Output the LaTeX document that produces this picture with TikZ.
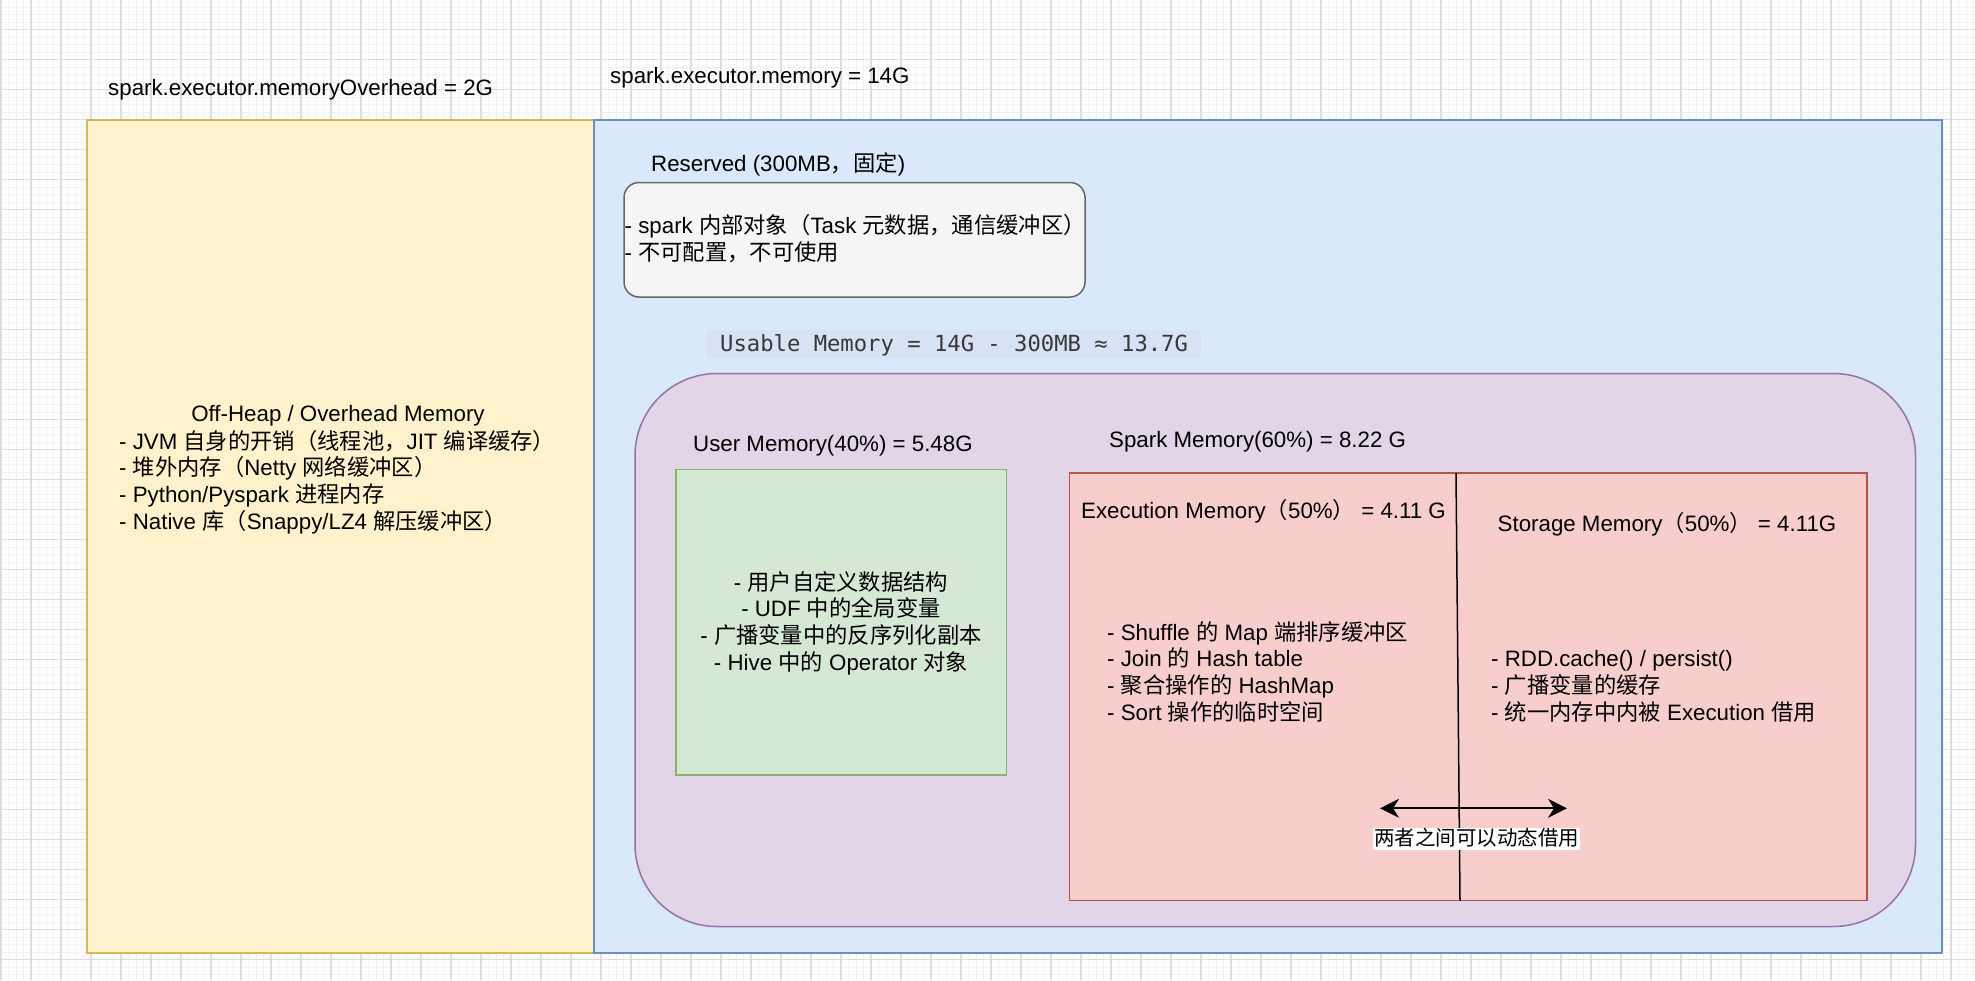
\documentclass[tikz,border=0pt]{standalone}
\usepackage{fontspec}
\setmainfont{Liberation Sans}
\newfontfamily\cjk{Noto Sans CJK SC}
\newfontfamily\codefont{DejaVu Sans Mono}
\usetikzlibrary{arrows.meta}
\newcommand\zh[1]{{\cjk #1}}
\newcommand\fs{\fontsize{22.3pt}{26.7pt}\selectfont}
\definecolor{yelFill}{HTML}{FFF2CC}
\definecolor{yelLine}{HTML}{D6B656}
\definecolor{bluFill}{HTML}{DAE8FC}
\definecolor{bluLine}{HTML}{6C8EBF}
\definecolor{gryFill}{HTML}{F5F5F5}
\definecolor{gryLine}{HTML}{666666}
\definecolor{purFill}{HTML}{E1D5E7}
\definecolor{purLine}{HTML}{9673A6}
\definecolor{grnFill}{HTML}{D5E8D4}
\definecolor{grnLine}{HTML}{82B366}
\definecolor{redFill}{HTML}{F8CECC}
\definecolor{redLine}{HTML}{B85450}
\definecolor{codeBg}{HTML}{D7E3F4}
\definecolor{codeTxt}{HTML}{383838}
\definecolor{gridMinor}{HTML}{F1F1F1}
\definecolor{gridMajor}{HTML}{DDDDDD}
\begin{document}
\begin{tikzpicture}[x=1pt,y=-1pt,
  lbl/.style={inner sep=0pt,anchor=base west,font=\fs},
  lblc/.style={inner sep=0pt,anchor=base,font=\fs},
  boxline/.style={line width=1.5pt},
  minorgrid/.style={draw=gridMinor,line width=0.9pt},
  majorgrid/.style={draw=gridMajor,line width=1.2pt}]
\useasboundingbox (0,0) rectangle (1975,980);
\fill[white] (0,0) rectangle (1975,980);
% grid
\foreach \i in {0,...,263} {\draw[minorgrid] ({1+7.5*\i},0) -- ({1+7.5*\i},980);}
\foreach \j in {0,...,131} {\draw[minorgrid] (0,{-0.5+7.5*\j}) -- (1975,{-0.5+7.5*\j});}
\foreach \i in {0,...,65} {\draw[majorgrid] ({1+30*\i},0) -- ({1+30*\i},980);}
\foreach \j in {1,...,33} {\draw[majorgrid] (0,{-0.5+30*\j}) -- (1975,{-0.5+30*\j});}

% main boxes
\draw[boxline,draw=yelLine,fill=yelFill] (87,120) rectangle (594,953);
\draw[boxline,draw=bluLine,fill=bluFill] (594,120) rectangle (1942,953);
\node[lbl] (ovhTitle) at (108,95.7) {spark.executor.memoryOverhead = 2G};
\node[lbl] (memTitle) at (610,83) {spark.executor.memory = 14G};

% reserved
\draw[boxline,draw=gryLine,fill=gryFill,rounded corners=15pt] (624,182.5) rectangle (1085,297);
\node[lbl] (resTitle) at (651,171.7) {Reserved (300MB\zh{，固定})};
\node[lbl] (res1) at (624.5,233.3) {- spark \zh{内部对象（}Task \zh{元数据，通信缓冲区）}};
\node[lbl] (res2) at (624.5,260.7) {- \zh{不可配置，不可使用}};

% usable
\fill[codeBg] (706,329.5) rectangle (1201,357.5);
\node[inner sep=0pt,anchor=base west,font=\codefont\fontsize{22.2pt}{26pt}\selectfont,text=codeTxt] (usable) at (720,351.7) {Usable Memory = 14G - 300MB ≈ 13.7G};

% off-heap text
\node[lblc] (offTitle) at (338,421.7) {Off-Heap / Overhead Memory};
\node[lbl] (off1) at (119,449) {- JVM \zh{自身的开销（线程池，}JIT \zh{编译缓存）}};
\node[lbl] (off2) at (119,475.7) {- \zh{堆外内存（}Netty \zh{网络缓冲区）}};
\node[lbl] (off3) at (119,502.3) {- Python/Pyspark \zh{进程内存}};
\node[lbl] (off4) at (119,529) {- Native \zh{库（}Snappy/LZ4 \zh{解压缓冲区）}};

% purple usable region
\draw[boxline,draw=purLine,fill=purFill,rounded corners=82pt] (635,373.5) rectangle (1915.5,926.5);
\node[lbl] (userTitle) at (693,451.7) {User Memory(40\%) = 5.48G};
\node[lbl] (sparkTitle) at (1109,447) {Spark Memory(60\%) = 8.22 G};

% user memory box
\draw[boxline,draw=grnLine,fill=grnFill] (676,469.5) rectangle (1006.5,775);
\node[lblc] (usr1) at (841,590) {- \zh{用户自定义数据结构}};
\node[lblc] (usr2) at (841,616.7) {- UDF \zh{中的全局变量}};
\node[lblc] (usr3) at (841,643.3) {- \zh{广播变量中的反序列化副本}};
\node[lblc] (usr4) at (841,670) {- Hive \zh{中的} Operator \zh{对象}};

% spark memory box
\draw[boxline,draw=redLine,fill=redFill] (1069.5,473) rectangle (1867,900.5);
\coordinate (divT) at (1456,473);
\coordinate (divB) at (1460,900.5);
\draw[line width=1.5pt,black] (divT) -- (divB);
\node[lbl] (execTitle) at (1081,518) {Execution Memory\zh{（}50\%\zh{）} = 4.11 G};
\node[lbl] (storTitle) at (1497.5,531) {Storage Memory\zh{（}50\%\zh{）} = 4.11G};
\node[lbl] (ex1) at (1107,640) {- Shuffle \zh{的} Map \zh{端排序缓冲区}};
\node[lbl] (ex2) at (1107,666.7) {- Join \zh{的} Hash table};
\node[lbl] (ex3) at (1107,693.3) {- \zh{聚合操作的} HashMap};
\node[lbl] (ex4) at (1107,720) {- Sort \zh{操作的临时空间}};
\node[lbl] (st1) at (1491,666.7) {- RDD.cache() / persist()};
\node[lbl] (st2) at (1491,693.3) {- \zh{广播变量的缓存}};
\node[lbl] (st3) at (1491,720) {- \zh{统一内存中内被} Execution \zh{借用}};

% borrow arrow
\coordinate (arL) at (1380,808.3);
\coordinate (arR) at (1567,808.3);
\draw[line width=1.8pt,black,{Stealth[length=19pt,width=19pt,inset=6pt]}-{Stealth[length=19pt,width=19pt,inset=6pt]}] (arL) -- (arR);
\node[fill=white,inner xsep=1pt,inner ysep=0pt,text height=17pt,text depth=5pt,font=\cjk\fontsize{20.5pt}{24pt}\selectfont] (borrow) at (1476.5,839) {两者之间可以动态借用};
\end{tikzpicture}
\end{document}
